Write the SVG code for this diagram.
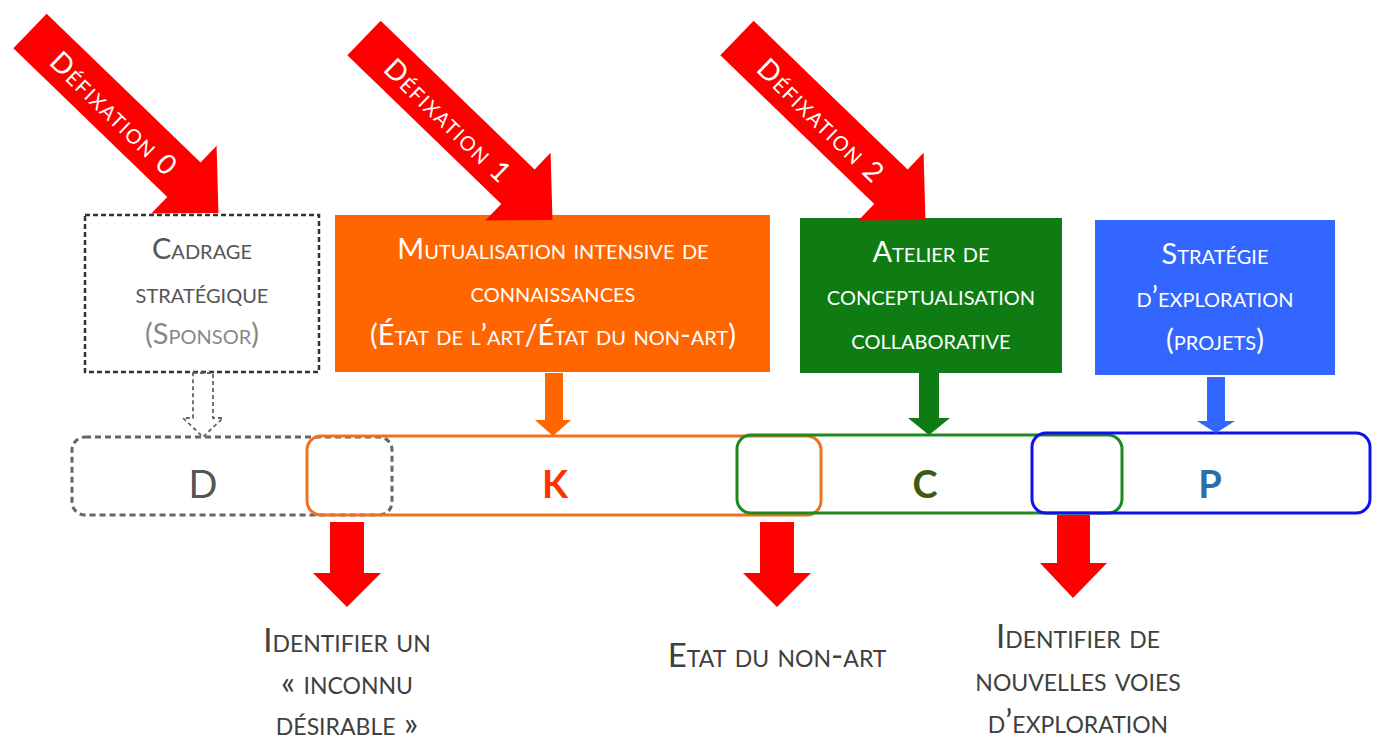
<svg xmlns="http://www.w3.org/2000/svg" width="1376" height="742" viewBox="0 0 1376 742">
<defs>
<style>
.sc{font-family:Lato,"Open Sans","Liberation Sans",sans-serif;font-variant:small-caps;text-anchor:middle;dominant-baseline:central}
.box{font-size:29px;fill:#fff}
.def{font-size:28px;fill:#fff;letter-spacing:1.5px}
.out{font-family:Lato,"Open Sans","Liberation Sans",sans-serif;font-variant:small-caps;text-anchor:middle;font-size:33px;fill:#404040}
.bar{fill:none;stroke-width:3}
.letter{font-family:Lato,"Liberation Sans",sans-serif;font-size:38px;text-anchor:middle;dominant-baseline:central}
</style>
<path id="diag" d="M0,-24 L214,-24 L214,-47 L262,0 L214,47 L214,24 L0,24 Z"/>
</defs>
<rect width="1376" height="742" fill="#fff"/>

<g id="cadrage">
<rect x="85" y="215" width="234" height="157" fill="#fff" stroke="#333" stroke-width="2.5" stroke-dasharray="5 3"/>
<text class="sc" font-size="29" fill="#555" x="202" y="247">Cadrage</text>
<text class="sc" font-size="29" fill="#555" x="202" y="291">stratégique</text>
<text class="sc" font-size="29" fill="#888" x="202" y="332">(Sponsor)</text>
</g>

<g id="mutualisation">
<rect x="335" y="215" width="435" height="157" fill="#FF6600"/>
<text class="sc box" x="553" y="247">Mutualisation intensive de</text>
<text class="sc box" x="553" y="290">connaissances</text>
<text class="sc box" x="553" y="333">(État de l’art/État du non-art)</text>
</g>

<g id="atelier">
<rect x="800" y="218" width="262" height="155" fill="#0E7C12"/>
<text class="sc box" x="931" y="250">Atelier de</text>
<text class="sc box" x="931" y="293">conceptualisation</text>
<text class="sc box" x="931" y="337">collaborative</text>
</g>

<g id="strategie">
<rect x="1095" y="220" width="240" height="155" fill="#3366FF"/>
<text class="sc box" x="1215" y="252">Stratégie</text>
<text class="sc box" x="1215" y="295">d’exploration</text>
<text class="sc box" x="1215" y="338">(projets)</text>
</g>

<g id="bar-D">
<rect class="bar" x="72" y="437" width="320" height="78" rx="13" stroke="#666" stroke-width="2" stroke-dasharray="6 4"/>
<text class="letter" x="203" y="483" fill="#555">D</text>
</g>
<g id="bar-K">
<rect class="bar" x="307" y="436" width="514" height="79" rx="14" stroke="#F07020"/>
<text class="letter" x="555" y="483" fill="#FF3300" font-weight="bold">K</text>
</g>
<g id="bar-C">
<rect class="bar" x="737" y="435" width="385" height="78" rx="14" stroke="#1E8A1E"/>
<text class="letter" x="925" y="483" fill="#3C5A14" font-weight="bold">C</text>
</g>
<g id="bar-P">
<rect class="bar" x="1032" y="433" width="338" height="80" rx="14" stroke="#1010E8"/>
<text class="letter" x="1210" y="483" fill="#2E6EA6" font-weight="bold">P</text>
</g>

<g id="connectors">
<path d="M193,373 L213,373 L213,418 L223,418 L203,437 L183,418 L193,418 Z" fill="none" stroke="#666" stroke-width="1.8" stroke-dasharray="4 3"/>
<path d="M545,373 L563,373 L563,420 L571,420 L553,436 L535,420 L545,420 Z" fill="#FF6600"/>
<path d="M919,373 L939,373 L939,418 L950,418 L929,435 L908,418 L919,418 Z" fill="#0E7C12"/>
<path d="M1207,377 L1225,377 L1225,421 L1235,421 L1216,433 L1197,421 L1207,421 Z" fill="#3366FF"/>
<path d="M330,522 L364,522 L364,573 L381,573 L347,607 L313,573 L330,573 Z" fill="#FF0000"/>
<path d="M760,522 L794,522 L794,573 L811,573 L777,607 L743,573 L760,573 Z" fill="#FF0000"/>
<path d="M1057,515 L1090,515 L1090,563 L1107,563 L1073,598 L1040,563 L1057,563 Z" fill="#FF0000"/>
</g>

<g id="defixation-0" transform="translate(30,31) rotate(44)">
<use href="#diag" fill="#FF0000"/>
<text class="sc def" x="118" y="0">Défixation 0</text>
</g>
<g id="defixation-1" transform="translate(364,38) rotate(44)">
<use href="#diag" fill="#FF0000"/>
<text class="sc def" x="118" y="0">Défixation 1</text>
</g>
<g id="defixation-2" transform="translate(737,38) rotate(44)">
<use href="#diag" fill="#FF0000"/>
<text class="sc def" x="118" y="0">Défixation 2</text>
</g>

<g id="out-1">
<text class="out" x="347" y="652">Identifier un</text>
<text class="out" x="347" y="694">« inconnu</text>
<text class="out" x="347" y="735">désirable »</text>
</g>
<g id="out-2">
<text class="out" x="777" y="667">Etat du non-art</text>
</g>
<g id="out-3">
<text class="out" x="1078" y="648">Identifier de</text>
<text class="out" x="1078" y="691">nouvelles voies</text>
<text class="out" x="1078" y="733">d’exploration</text>
</g>
</svg>
